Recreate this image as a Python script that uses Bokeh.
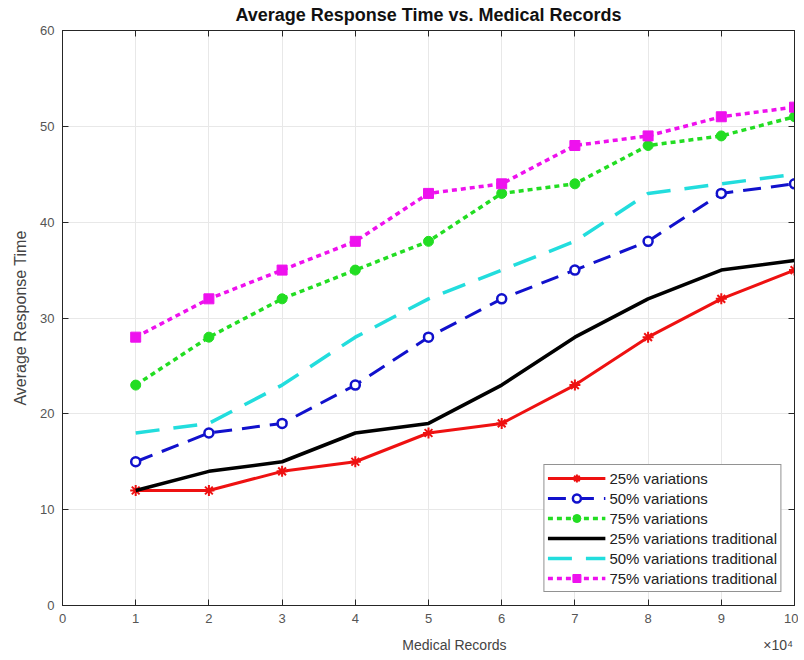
from bokeh.plotting import figure
from bokeh.embed import file_html
from bokeh.resources import INLINE
from bokeh.models import (LinearAxis, Range1d, FixedTicker, CustomJSTickFormatter,
                          Legend, LegendItem, Grid)

records = [10000, 20000, 30000, 40000, 50000, 60000, 70000, 80000, 90000, 100000]
var25 = [12, 12, 14, 15, 18, 19, 23, 28, 32, 35]
var50 = [15, 18, 19, 23, 28, 32, 35, 38, 43, 44]
var75 = [23, 28, 32, 35, 38, 43, 44, 48, 49, 51]
trad25 = [12, 14, 15, 18, 19, 23, 28, 32, 35, 36]
trad50 = [18, 19, 23, 28, 32, 35, 38, 43, 44, 45]
trad75 = [28, 32, 35, 38, 43, 44, 48, 49, 51, 52]
x_ticks = [0, 10000, 20000, 30000, 40000, 50000, 60000, 70000, 80000, 90000, 100000]
y_ticks = [0, 10, 20, 30, 40, 50, 60]

FONT = "Liberation Sans"
TICK_COLOR = "#555555"
NB = "\u00a0"

p = figure(width=798, height=658, output_backend="svg", toolbar_location=None,
           x_range=Range1d(0, 100000), y_range=Range1d(0, 60),
           min_border_left=62, min_border_right=4, min_border_top=30, min_border_bottom=53,
           x_axis_type=None, y_axis_type=None)
p.outline_line_color = "#262626"
p.outline_line_width = 1
p.title.text = "Average Response Time vs. Medical Records"
p.title.align = "center"
p.title.text_font = FONT
p.title.text_font_size = "18px"
p.title.text_font_style = "bold"
p.title.text_color = "#111111"
p.title.offset = 0
p.title.standoff = 8
p.title.vertical_align = "top"
p.title.text_line_height = 1.0

fmt = CustomJSTickFormatter(code="return (tick/10000).toFixed(0);")
blank = CustomJSTickFormatter(code="return '';")

x_label = NB * 87 + "Medical Records" + NB * 66 + "×10⁴"

xb = LinearAxis(ticker=FixedTicker(ticks=x_ticks), formatter=fmt, axis_label=x_label)
yl = LinearAxis(ticker=FixedTicker(ticks=y_ticks), axis_label="Average Response Time")
xt = LinearAxis(ticker=FixedTicker(ticks=x_ticks), formatter=blank)
yr = LinearAxis(ticker=FixedTicker(ticks=y_ticks), formatter=blank)
for ax in (xb, yl, xt, yr):
    ax.major_tick_in = 6
    ax.major_tick_out = 0
    ax.minor_tick_line_color = None
    ax.axis_line_color = "#262626"
    ax.major_tick_line_color = "#262626"
    ax.major_label_text_font = FONT
    ax.major_label_text_color = TICK_COLOR
    ax.major_label_text_font_size = "13px"
    ax.axis_label_text_font = FONT
    ax.axis_label_text_font_style = "normal"
    ax.axis_label_text_color = "#444444"
for ax in (xt, yr):
    ax.major_label_standoff = 0
xb.axis_label_text_font_size = "14px"
yl.axis_label_text_font_size = "16px"
xb.major_label_standoff = 8
xb.axis_label_standoff = 11
yl.major_label_standoff = 8
yl.axis_label_standoff = 8
p.add_layout(xb, "below")
p.add_layout(yl, "left")
p.add_layout(xt, "above")
p.add_layout(yr, "right")

p.add_layout(Grid(dimension=0, ticker=xb.ticker, grid_line_color="#e8e8e8"))
p.add_layout(Grid(dimension=1, ticker=yl.ticker, grid_line_color="#e8e8e8"))

items = []
l1 = p.line(records, var25, line_color="#ee1111", line_width=3)
m1 = p.scatter(records, var25, marker="asterisk", size=11, line_color="#ee1111", line_width=2)
items.append(LegendItem(label="25% variations", renderers=[l1, m1]))

l2 = p.line(records, var50, line_color="#1111cc", line_width=3, line_dash="18 10")
m2 = p.scatter(records, var50, marker="circle", size=9, line_color="#1111cc", line_width=2.5,
               fill_color="white")
items.append(LegendItem(label="50% variations", renderers=[l2, m2]))

l3 = p.line(records, var75, line_color="#22dd22", line_width=3.5, line_dash="5 4")
m3 = p.scatter(records, var75, marker="circle", size=10, line_color="#22dd22",
               fill_color="#22dd22")
items.append(LegendItem(label="75% variations", renderers=[l3, m3]))

l4 = p.line(records, trad25, line_color="#000000", line_width=3.5)
items.append(LegendItem(label="25% variations traditional", renderers=[l4]))

l5 = p.line(records, trad50, line_color="#22dddd", line_width=3.5, line_dash="24 14")
items.append(LegendItem(label="50% variations traditional", renderers=[l5]))

l6 = p.line(records, trad75, line_color="#ee11ee", line_width=3.5, line_dash="5 4")
m6 = p.scatter(records, trad75, marker="square", size=10, line_color="#ee11ee",
               fill_color="#ee11ee")
items.append(LegendItem(label="75% variations traditional", renderers=[l6, m6]))

legend = Legend(items=items, location="bottom_right")
legend.margin = 13
legend.padding = 3
legend.spacing = 0
legend.label_height = 20
legend.glyph_height = 20
legend.glyph_width = 58
legend.label_standoff = 4
legend.label_text_font = FONT
legend.label_text_font_size = "15px"
legend.label_text_color = "#222222"
legend.border_line_color = "#262626"
legend.border_line_width = 1
legend.background_fill_alpha = 1
p.add_layout(legend, "center")

open("out.html", "w").write(file_html(p, INLINE))
